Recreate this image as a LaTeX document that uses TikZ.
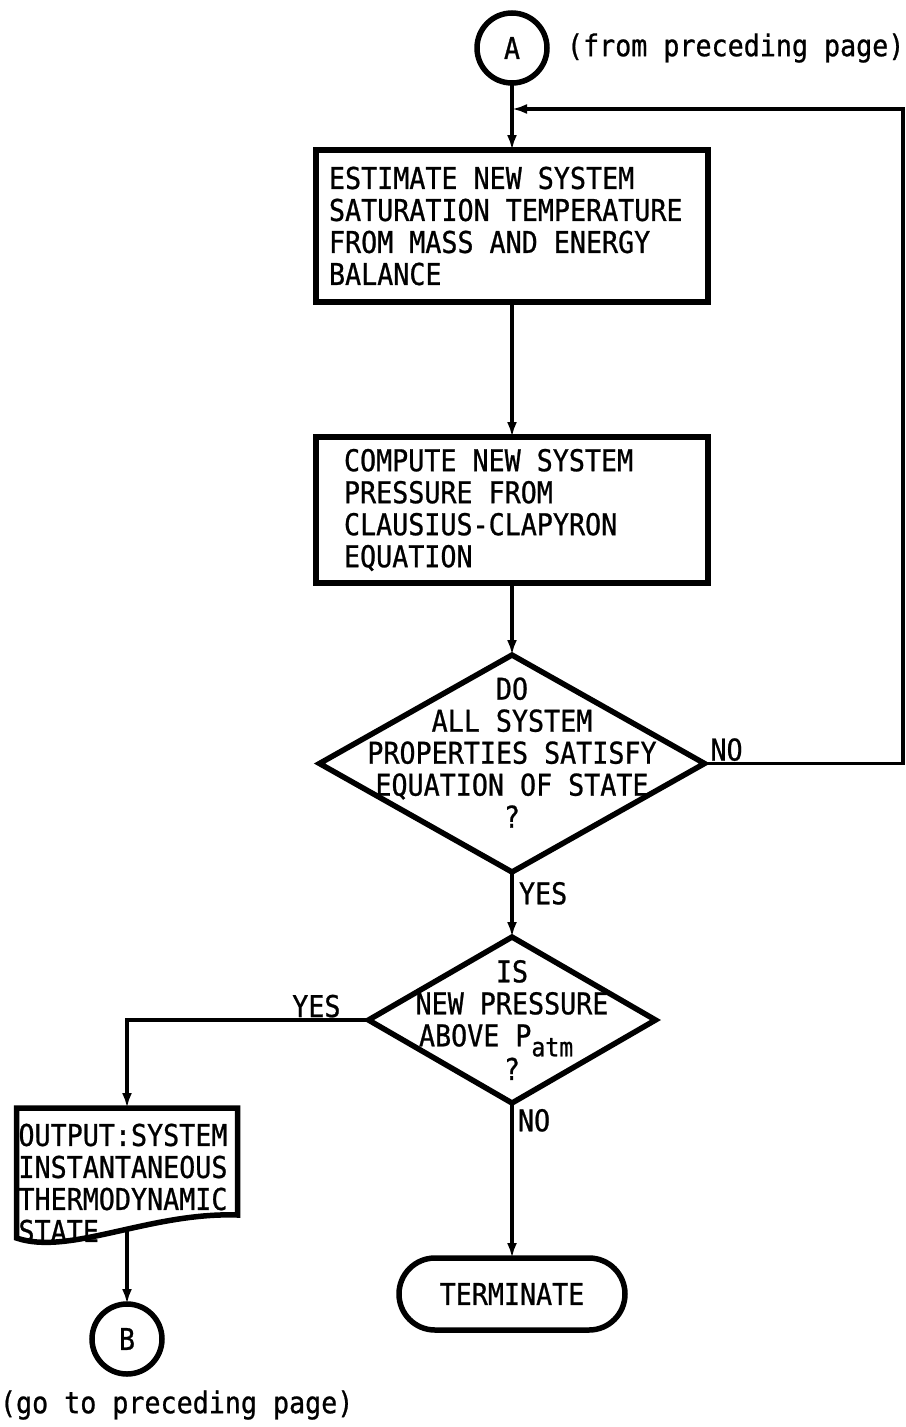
\documentclass[tikz,border=0pt]{standalone}
\usepackage{fontspec}
\newfontfamily\plotfont[FakeStretch=0.89, FakeBold=0.8]{DejaVu Sans Mono}
\newcommand\plottext{\plotfont\fontsize{30}{32}\selectfont}
\usetikzlibrary{positioning,shapes.geometric,shapes.misc,arrows.meta}

\tikzset{
    every node/.style={font=\plottext, inner sep=0pt, outer sep=0pt,
        execute at begin node=\spaceskip 16pt\relax},
    flow/.style={line width=3.5pt, -{Latex[length=15pt,width=10pt]}},
    procbox/.style={draw, rectangle, line width=5.5pt, minimum width=392pt, align=left},
    decide/.style={draw, diamond, line width=5.5pt},
    endcap/.style={draw, rounded rectangle, line width=5.5pt, minimum width=226pt, minimum height=72pt},
    pageconn/.style={draw, circle, line width=5.5pt, minimum size=70pt},
    tag/.style={inner sep=0pt}
}

\begin{document}
\begin{tikzpicture}[x=1pt, y=-1pt]
        \useasboundingbox (0,0) rectangle (905,1427);

        \node[pageconn] (A) at (512,48) {A};
        \node[right=20pt of A] (fromnote) {(from preceding page)};
        \coordinate (join) at (512,109);
        \coordinate (loop) at (903,109);

        \node[procbox, below=67pt of A, text width=366pt, inner xsep=13pt, minimum height=152pt] (est)
            {ESTIMATE NEW SYSTEM\\SATURATION TEMPERATURE\\FROM MASS AND ENERGY\\BALANCE};
        \node[procbox, below=135pt of est, text width=336pt, inner xsep=28pt, minimum height=146pt] (comp)
            {COMPUTE NEW SYSTEM\\PRESSURE FROM\\CLAUSIUS-CLAPYRON\\EQUATION};

        % the texts run past the diamond edges, so they sit on top as labels
        \node[decide, below=72pt of comp, minimum width=385pt, minimum height=217pt,
            label={[align=center, yshift=11pt]center:{DO\\ALL SYSTEM\\PROPERTIES SATISFY\\EQUATION OF STATE\\?}}] (d1) {};
        \node[decide, below=65pt of d1, minimum width=287pt, minimum height=166pt,
            label={[align=center]center:{IS\\NEW PRESSURE\\\hbox to 186pt{ABOVE P\raisebox{-10pt}{\fontsize{26}{26}\selectfont atm}\hfil}\\?}}] (d2) {};

        \node[endcap, below=155pt of d2] (term) {TERMINATE};

        \node[minimum width=221pt, minimum height=134pt,
            label={[align=left, text width=217pt, yshift=-8pt]center:{OUTPUT:SYSTEM\\INSTANTANEOUS\\THERMODYNAMIC\\STATE}}] (doc) at (127,1175) {};
        \draw[line width=5.5pt] ([yshift=4pt]doc.south west) |- (doc.north east) -- ([yshift=27pt]doc.south east)
            .. controls ([xshift=-88pt, yshift=30pt]doc.south east) and ([xshift=53pt, yshift=-14pt]doc.south west)
            .. ([yshift=4pt]doc.south west) -- cycle;
        \coordinate (docout) at ([yshift=12pt]doc.south);

        \node[pageconn, below=62pt of doc] (B) {B};
        \node[anchor=west] (gonote) at (0,1405) {(go to preceding page)};

        \node[tag, anchor=base west] (no1) at ([xshift=6pt, yshift=3pt]d1.east) {NO};
        \node[tag, anchor=north west] (yes1) at ([xshift=7pt, yshift=-10pt]d1.south) {YES};
        \node[tag, anchor=base east] (yes2) at ([xshift=-28pt, yshift=3pt]d2.west) {YES};
        \node[tag, anchor=north west] (no2) at ([xshift=6pt, yshift=-6pt]d2.south) {NO};

        \draw[flow] (A) -- (est);
        \draw[flow] (est) -- (comp);
        \draw[flow] (comp) -- (d1);
        \draw[flow] (d1.east) -| (loop) -- (join);
        \draw[flow] (d1) -- (d2);
        \draw[flow] (d2.west) -| (doc.north);
        \draw[flow] (d2) -- (term);
        \draw[flow] (docout) -- (B);
\end{tikzpicture}
\end{document}
